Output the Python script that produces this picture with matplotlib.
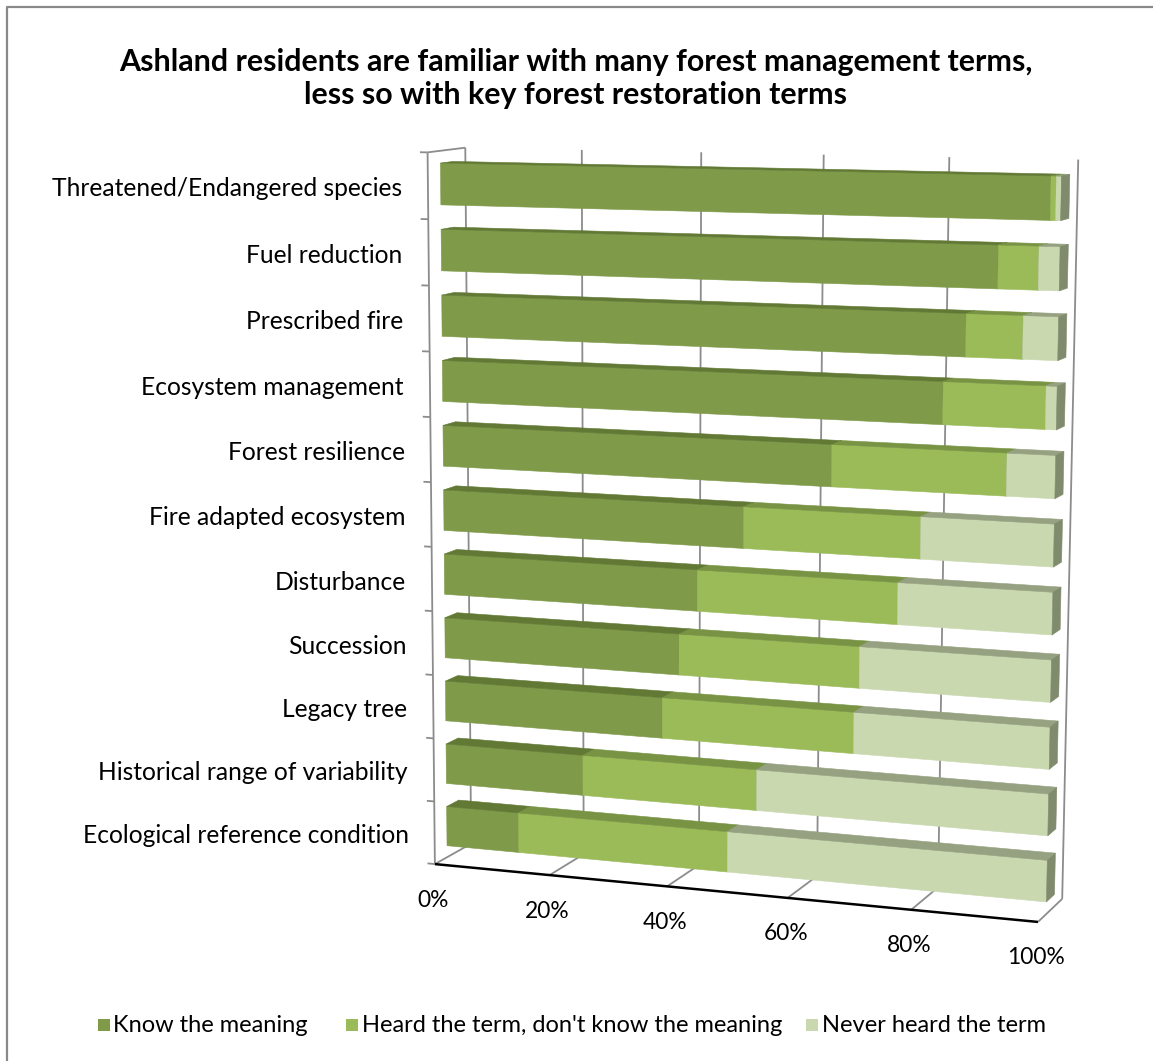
import numpy as np
import matplotlib
matplotlib.use("Agg")
import matplotlib.pyplot as plt
from matplotlib.patches import Polygon, Rectangle

plt.rcParams['font.family'] = ['Lato', 'DejaVu Sans']

# ---- data (top row first) ----
categories = ["Threatened/Endangered species", "Fuel reduction", "Prescribed fire",
              "Ecosystem management", "Forest resilience", "Fire adapted ecosystem",
              "Disturbance", "Succession", "Legacy tree",
              "Historical range of variability", "Ecological reference condition"]
know_meaning = [98.4, 90.6, 85.8, 82.4, 64.9, 50.7, 43.1, 40.1, 37.3, 23.8, 12.6]
heard_term = [0.8, 6.2, 8.8, 15.9, 27.6, 28.5, 32.6, 29.6, 31.6, 29.3, 35.7]
never_heard = [0.8, 3.2, 5.4, 1.7, 7.5, 20.8, 24.3, 30.3, 31.1, 46.9, 51.7]
series_names = ["Know the meaning", "Heard the term, don't know the meaning",
                "Never heard the term"]
x_ticks = [0, 20, 40, 60, 80, 100]
x_tick_labels = ["0%", "20%", "40%", "60%", "80%", "100%"]

title_lines = ["Ashland residents are familiar with many forest management terms,",
               "less so with key forest restoration terms"]

# face colours per series: (front, top, side)
series_colors = [("#7F9A48", "#617934", "#5F7532"),
                 ("#9BBB59", "#779343", "#6F8A3E"),
                 ("#C9D8AF", "#96A181", "#808A6C")]
grid_color = "#8C8C8C"

W, H = 1153, 1061
fig = plt.figure(figsize=(W / 100, H / 100), dpi=100)
ax = fig.add_axes([0, 0, 1, 1])
ax.set_xlim(0, W)
ax.set_ylim(H, 0)
ax.axis('off')

# ---- perspective camera for the 3-D plot box ----
# world: x = value share (0..1), y = height (0 floor .. 1 top), z = depth (0 front .. 1 back)
box_world = np.array([
    (0, 0, 0), (1, 0, 0), (0, 0, 1), (1, 0, 1),
    (0, 1, 1), (1, 1, 1), (0, 1, 0),
    (0.2, 1, 1), (0.4, 1, 1), (0.6, 1, 1), (0.8, 1, 1),
    (0.2, 0, 0), (0.4, 0, 0)], dtype=float)
box_canvas = np.array([
    (437, 862), (1038, 925), (467, 846), (1062, 897),
    (468, 148), (1077, 159), (423, 153),
    (583, 150), (703, 152), (824, 154.5), (949, 157),
    (552, 874), (667, 886)], dtype=float) / 1000.0


def fit_camera(world, canvas):
    rows = []
    for (X, Y, Z), (u, v) in zip(world, canvas):
        rows.append([X, Y, Z, 1, 0, 0, 0, 0, -u * X, -u * Y, -u * Z, -u])
        rows.append([0, 0, 0, 0, X, Y, Z, 1, -v * X, -v * Y, -v * Z, -v])
    _, _, vt = np.linalg.svd(np.array(rows))
    return vt[-1].reshape(3, 4)


P = fit_camera(box_world, box_canvas)


def proj(x, y, z):
    h = P @ np.array([x, y, z, 1.0])
    return h[0] / h[2] * 1000.0, h[1] / h[2] * 1000.0


def line3d(p0, p1, **kw):
    a = proj(*p0)
    b = proj(*p1)
    ax.plot([a[0], b[0]], [a[1], b[1]], solid_capstyle='butt', **kw)


def face(pts, color, z):
    poly = Polygon([proj(*p) for p in pts], closed=True, facecolor=color,
                   edgecolor=color, linewidth=0.4, zorder=z, antialiased=True)
    ax.add_patch(poly)


# ---- walls and floor ----
for t in x_ticks:
    xv = t / 100
    line3d((xv, 0, 1), (xv, 1, 1), color=grid_color, lw=1.3, zorder=1)   # back wall grid
    line3d((xv, 0, 0), (xv, 0, 1), color=grid_color, lw=1.3, zorder=1)   # floor grid
line3d((0, 0, 0), (0, 1, 0), color=grid_color, lw=1.3, zorder=1)         # left wall front edge
line3d((0, 1, 0), (0, 1, 1), color=grid_color, lw=1.3, zorder=1)         # left wall top edge
line3d((0, 0, 0), (1, 0, 0), color="black", lw=1.8, zorder=1.5)         # value axis line

n = len(categories)
for k in range(n + 1):
    line3d((0, k / n, 0), (-0.013, k / n, 0), color=grid_color, lw=1.3, zorder=1)

# ---- bars ----
bar_frac = 0.63
z0, z1 = 1 / 3, 2 / 3
series = [know_meaning, heard_term, never_heard]
for i in range(n):
    total = sum(s[i] for s in series)
    yc = 1 - (i + 0.5) / n
    y0, y1 = yc - bar_frac / 2 / n, yc + bar_frac / 2 / n
    left = 0.0
    for j, s in enumerate(series):
        right = left + s[i] / total
        front, top, side = series_colors[j]
        zo = 2 + i * 0.1 + j * 0.01
        face([(left, y0, z0), (right, y0, z0), (right, y1, z0), (left, y1, z0)], front, zo)
        face([(left, y1, z0), (right, y1, z0), (right, y1, z1), (left, y1, z1)], top, zo)
        face([(right, y0, z0), (right, y0, z1), (right, y1, z1), (right, y1, z0)], side, zo)
        left = right

# ---- labels ----
for i, name in enumerate(categories):
    yc = 1 - (i + 0.5) / n
    u, v = proj(0, yc, 0)
    ax.text(u - 26, v + 3, name, ha='right', va='center', fontsize=17.7, color='black')

for t, lab in zip(x_ticks, x_tick_labels):
    u, v = proj(t / 100, 0, 0)
    ax.text(u - 2, v + 36, lab, ha='center', va='center', fontsize=16.4, color='black')

for line, yp in zip(title_lines, (62, 95)):
    fig.text(576 / W, 1 - yp / H, line, ha='center', va='center', fontsize=21.9,
             fontweight='bold')

# ---- legend (key squares with text, in one row) ----
legend_y = 1025
legend_keys = [(98, 113), (346, 362), (806, 822)]
for (kx, tx), name, col in zip(legend_keys, series_names, series_colors):
    ax.add_patch(Rectangle((kx, legend_y - 6), 12, 12, facecolor=col[0],
                           edgecolor='none', zorder=3))
    ax.text(tx, legend_y, name, ha='left', va='center', fontsize=17, color='black')

# ---- chart border ----
ax.plot([7, 7, W + 5], [H + 5, 7, 7], color="#898989", lw=1.6, zorder=0)

fig.savefig("out.png", dpi=100)
